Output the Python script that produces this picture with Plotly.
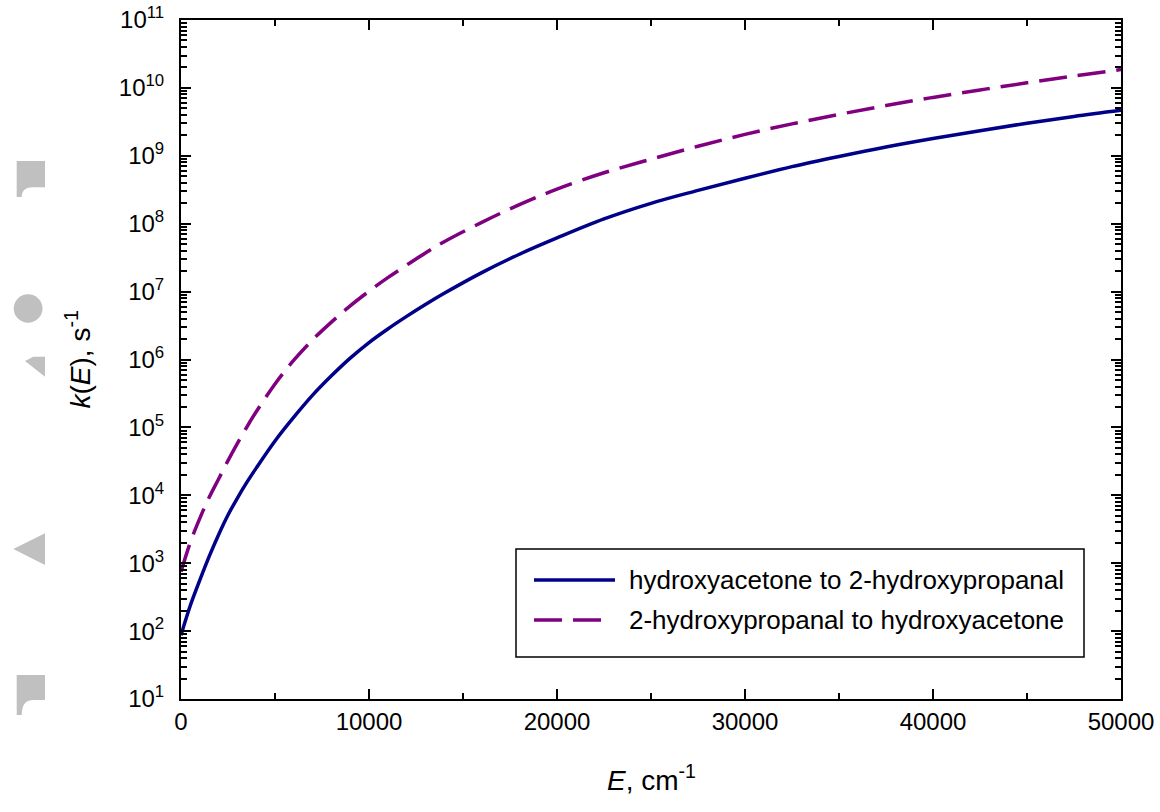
import numpy as np
import plotly.graph_objects as go

# ---- data ----
energy_cm1 = [0, 500, 1000, 1500, 2000, 2500, 3000, 3500, 4000, 5000, 6000, 7000, 8000,
              9000, 10000, 11000, 12000, 13000, 14000, 16000, 18000, 20000, 22500,
              25000, 27500, 30000, 32500, 35000, 37500, 40000, 42500, 45000, 47500, 50000]
log10_k_ha_to_hp = [1.94, 2.38, 2.75, 3.10, 3.42, 3.71, 3.96, 4.19, 4.40, 4.80, 5.15, 5.475, 5.76,
                    6.02, 6.25, 6.45, 6.635, 6.81, 6.975, 7.28, 7.55, 7.79, 8.07,
                    8.30, 8.49, 8.67, 8.84, 8.99, 9.13, 9.255, 9.37, 9.48, 9.58, 9.67]
log10_k_hp_to_ha = [2.875, 3.31, 3.66, 3.97, 4.24, 4.51, 4.765, 5.005, 5.23, 5.64, 5.99, 6.29, 6.55,
                    6.79, 7.005, 7.205, 7.39, 7.57, 7.735, 8.02, 8.28, 8.51, 8.75,
                    8.95, 9.14, 9.315, 9.47, 9.61, 9.74, 9.86, 9.97, 10.075, 10.175, 10.27]
series_names = ["hydroxyacetone to 2-hydroxypropanal",
                "2-hydroxypropanal to hydroxyacetone"]
series_colors = ["#000088", "#800080"]
x_tick_vals = [0, 10000, 20000, 30000, 40000, 50000]
y_exponents = list(range(1, 12))

# ---- layout geometry (pixels) ----
W, H = 1160, 812
L, R, T, B = 181, 1121, 20, 699
FONT = "Liberation Sans, Arial, sans-serif"
DASH = "28px,11px"
LW = 3.5

def px(x):
    return (x - L) / (R - L)

def py(y):
    return (B - y) / (B - T)

fig = go.Figure()
fig.add_trace(go.Scatter(
    x=energy_cm1, y=np.power(10.0, log10_k_ha_to_hp), mode="lines",
    name=series_names[0], showlegend=False,
    line=dict(color=series_colors[0], width=LW, shape="spline", smoothing=1.0)))
fig.add_trace(go.Scatter(
    x=energy_cm1, y=np.power(10.0, log10_k_hp_to_ha), mode="lines",
    name=series_names[1], showlegend=False,
    line=dict(color=series_colors[1], width=LW, dash=DASH, shape="spline", smoothing=1.0)))

minor_y = [m * 10.0 ** e for e in y_exponents[:-1] for m in range(2, 10)]

fig.update_xaxes(
    range=[0, 50000], tickmode="array", tickvals=x_tick_vals,
    ticktext=[str(v) for v in x_tick_vals],
    showline=True, linecolor="black", linewidth=2, mirror="ticks",
    ticks="inside", ticklen=10, tickwidth=2, tickcolor="black",
    minor=dict(ticks="inside", ticklen=6, tickwidth=2, tickcolor="black", dtick=5000, showgrid=False),
    showgrid=False, zeroline=False, automargin=False,
    tickfont=dict(family=FONT, size=24, color="black"))
fig.update_yaxes(
    type="log", range=[1, 11], tickmode="array",
    tickvals=[10.0 ** e for e in y_exponents],
    ticktext=["10<sup>%d</sup>" % e for e in y_exponents],
    showline=True, linecolor="black", linewidth=2, mirror="ticks",
    ticks="inside", ticklen=10, tickwidth=2, tickcolor="black",
    minor=dict(ticks="inside", ticklen=6, tickwidth=1.5, tickcolor="black",
               tickmode="array", tickvals=minor_y, showgrid=False),
    showgrid=False, zeroline=False, automargin=False, ticklabelstandoff=10,
    tickfont=dict(family=FONT, size=24, color="black"))

annotations = []
# axis titles
annotations.append(dict(text="<i>E</i>, cm<sup>-1</sup>", xref="paper", yref="paper",
                        x=0.5, y=py(778), xanchor="center", yanchor="middle", showarrow=False,
                        font=dict(family=FONT, size=28, color="black")))
annotations.append(dict(text="<i>k</i>(<i>E</i>), s<sup>-1</sup>", xref="paper", yref="paper",
                        x=px(78), y=0.5, xanchor="center", yanchor="middle", showarrow=False,
                        textangle=-90, font=dict(family=FONT, size=28, color="black")))

shapes = []
# legend (box, samples, labels)
shapes.append(dict(type="rect", xref="paper", yref="paper", x0=px(516), x1=px(1084),
                   y0=py(657), y1=py(549), line=dict(color="black", width=1.5),
                   fillcolor="white", layer="above"))
legend_rows = [580, 620]
sample_ends = [615, 605]
dashes = ["solid", DASH]
for i in range(2):
    shapes.append(dict(type="line", xref="paper", yref="paper", x0=px(534), x1=px(sample_ends[i]),
                       y0=py(legend_rows[i]), y1=py(legend_rows[i]), layer="above",
                       line=dict(color=series_colors[i], width=LW, dash=dashes[i])))
    annotations.append(dict(text=series_names[i], xref="paper", yref="paper",
                            x=px(627), y=py(legend_rows[i]), xanchor="left", yanchor="middle",
                            showarrow=False, font=dict(family=FONT, size=26, color="black")))

# gray decorative glyphs at left edge
gray = "#c0c0c0"

def pth(cmds):
    out = []
    for c in cmds:
        if isinstance(c, str):
            out.append(c)
        else:
            out.append("%.5f,%.5f" % (px(c[0]), py(c[1])))
    return " ".join(out)

for top, sq, bot in [(161, 187.3, 197), (675, 700, 715)]:
    shapes.append(dict(type="path", xref="paper", yref="paper", fillcolor=gray, line=dict(width=0),
                       path=pth(["M", (16.7, top), "L", (45, top), "L", (45, sq), "L", (33.3, sq),
                                 "Q", (21.7, sq), (21.7, bot), "L", (16.7, bot), "Z"])))
shapes.append(dict(type="circle", xref="paper", yref="paper", fillcolor=gray, line=dict(width=0),
                   x0=px(13.7), x1=px(42.5), y0=py(322.7), y1=py(294.3)))
shapes.append(dict(type="path", xref="paper", yref="paper", fillcolor=gray, line=dict(width=0),
                   path=pth(["M", (25, 361), "L", (33.3, 356.7), "L", (45, 356.7), "L", (45, 376.7), "Z"])))
shapes.append(dict(type="path", xref="paper", yref="paper", fillcolor=gray, line=dict(width=0),
                   path=pth(["M", (13.3, 549), "L", (45, 533.3), "L", (45, 565), "Z"])))

fig.update_layout(
    width=W, height=H, margin=dict(l=L, r=W - R, t=T, b=H - B, pad=0, autoexpand=False),
    paper_bgcolor="white", plot_bgcolor="white",
    font=dict(family=FONT, color="black"),
    shapes=shapes, annotations=annotations, showlegend=False,
)

fig.write_html("out.html", config={"displayModeBar": False},
               post_script="document.body.style.margin='0px';document.body.style.overflow='hidden';")
